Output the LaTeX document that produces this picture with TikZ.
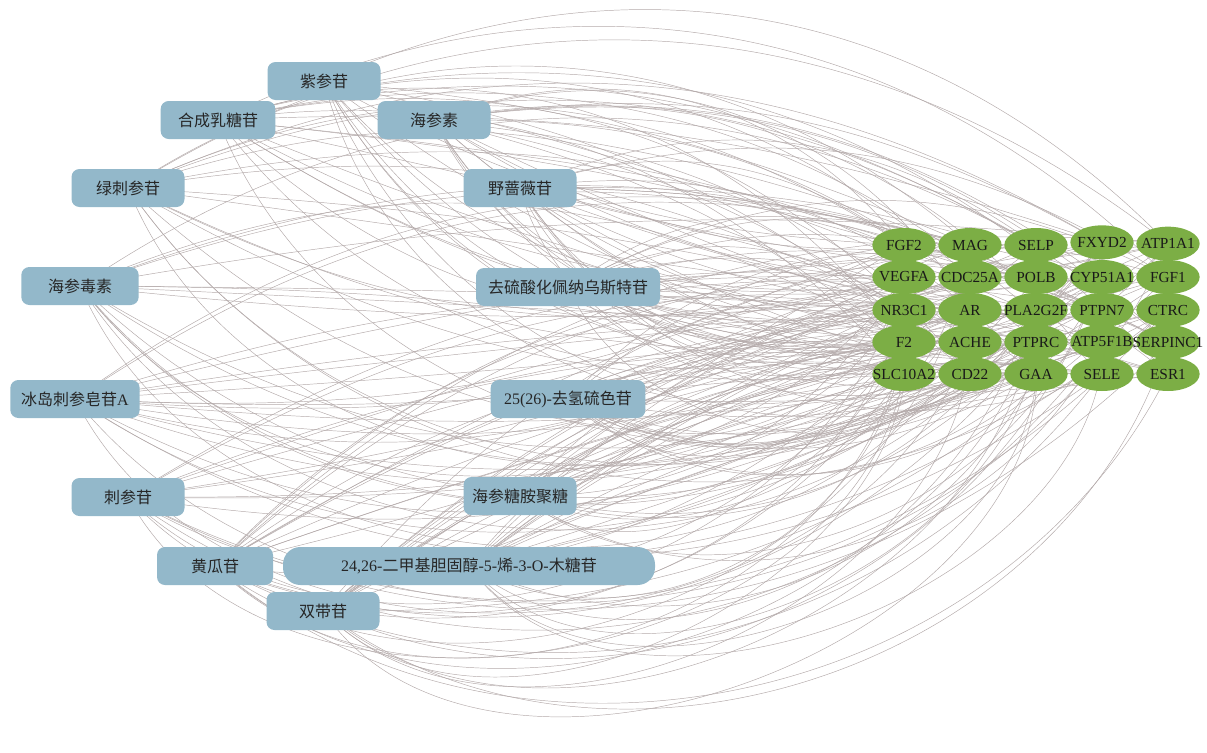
\documentclass[tikz,border=0pt]{standalone}
\usepackage{fontspec}
\setmainfont{Liberation Serif}
\newfontfamily\cjk{Noto Sans CJK SC}
\usetikzlibrary{shapes.geometric,backgrounds}
\definecolor{boxblue}{HTML}{93B8CA}
\definecolor{leafgreen}{HTML}{7CAE45}
\definecolor{edgegray}{HTML}{B3A9A9}
\newcommand{\zh}[1]{{\cjk #1}}
\begin{document}
\begin{tikzpicture}[x=0.75pt,y=-0.75pt,
  compound/.style={rectangle, rounded corners=6pt, fill=boxblue, minimum height=28.5pt, minimum width=84.75pt, inner sep=0pt, font=\fontsize{12}{12}\selectfont, text=black!85},
  target/.style={ellipse, fill=leafgreen, minimum width=47.5pt, minimum height=25.5pt, inner sep=0pt, font=\fontsize{11.5}{12}\selectfont, text=black!90},
  link/.style={draw=edgegray, line width=0.35pt}]
\useasboundingbox (0,0) rectangle (1207,753);
% compounds
\node[compound] (c1) at (324,81) {\zh{紫参苷}};
\node[compound, minimum width=86pt] (c2) at (218,120) {\zh{合成乳糖苷}};
\node[compound] (c3) at (434,120) {\zh{海参素}};
\node[compound] (c4) at (128,188) {\zh{绿刺参苷}};
\node[compound] (c5) at (520,188) {\zh{野蔷薇苷}};
\node[compound, minimum width=88pt] (c6) at (80,286) {\zh{海参毒素}};
\node[compound, minimum width=138pt] (c7) at (568,287) {\zh{去硫酸化佩纳乌斯特苷}};
\node[compound, minimum width=97pt] (c8) at (75,399) {\zh{冰岛刺参皂苷}A};
\node[compound, minimum width=116pt] (c9) at (568,399) {25(26)-\zh{去氢硫色苷}};
\node[compound] (c10) at (128,497) {\zh{刺参苷}};
\node[compound] (c11) at (520,496) {\zh{海参糖胺聚糖}};
\node[compound, minimum width=87pt] (c12) at (215,566) {\zh{黄瓜苷}};
\node[compound, minimum width=279pt, rounded corners=13pt] (c13) at (469,566) {24,26-\zh{二甲基胆固醇}-5-\zh{烯}-3-O-\zh{木糖苷}};
\node[compound] (c14) at (323,611) {\zh{双带苷}};
% targets
\foreach \r/\y in {1/245,2/277,3/310,4/342,5/374}{
  \foreach \k/\x in {1/904,2/970,3/1036,4/1102,5/1168}{
    \coordinate (p\r\k) at (\x,\y);
  }
}
\node[target] (t11) at (p11) {\makebox[0pt]{FGF2}};
\node[target] (t12) at (p12) {\makebox[0pt]{MAG}};
\node[target] (t13) at (p13) {\makebox[0pt]{SELP}};
\node[target] (t14) at ([yshift=2pt]p14) {\makebox[0pt]{FXYD2}};
\node[target] (t15) at ([yshift=1pt]p15) {\makebox[0pt]{ATP1A1}};
\node[target] (t21) at (p21) {\makebox[0pt]{VEGFA}};
\node[target] (t22) at (p22) {\makebox[0pt]{CDC25A}};
\node[target] (t23) at (p23) {\makebox[0pt]{POLB}};
\node[target] (t24) at (p24) {\makebox[0pt]{CYP51A1}};
\node[target] (t25) at (p25) {\makebox[0pt]{FGF1}};
\node[target] (t31) at (p31) {\makebox[0pt]{NR3C1}};
\node[target] (t32) at (p32) {\makebox[0pt]{AR}};
\node[target] (t33) at (p33) {\makebox[0pt]{PLA2G2F}};
\node[target] (t34) at (p34) {\makebox[0pt]{PTPN7}};
\node[target] (t35) at (p35) {\makebox[0pt]{CTRC}};
\node[target] (t41) at (p41) {\makebox[0pt]{F2}};
\node[target] (t42) at (p42) {\makebox[0pt]{ACHE}};
\node[target] (t43) at (p43) {\makebox[0pt]{PTPRC}};
\node[target] (t44) at (p44) {\makebox[0pt]{ATP5F1B}};
\node[target] (t45) at (p45) {\makebox[0pt]{SERPINC1}};
\node[target] (t51) at (p51) {\makebox[0pt]{SLC10A2}};
\node[target] (t52) at (p52) {\makebox[0pt]{CD22}};
\node[target] (t53) at (p53) {\makebox[0pt]{GAA}};
\node[target] (t54) at (p54) {\makebox[0pt]{SELE}};
\node[target] (t55) at (p55) {\makebox[0pt]{ESR1}};
% links
\pgfmathsetseed{2718}
\begin{pgfonlayer}{background}
\begin{scope}
\clip (0,0) rectangle (1207,753);
\foreach \c/\yc in {1/81,2/120,3/120,4/188,5/188,6/286,7/287,8/399,9/399,10/497,11/496,12/566,13/566,14/611}{
  \foreach \r in {1,...,5}{
    \foreach \k in {1,...,5}{
      \pgfmathsetmacro\keepval{rnd}
      \pgfmathsetmacro\bendraw{(345-\yc)/264*10+(rnd-0.5)*84}
      \pgfmathsetmacro\bendang{\bendraw<0 ? 1.6*\bendraw : 0.8*\bendraw}
      \ifdim\keepval pt<0.72pt
        \draw[link] (c\c.center) to[bend left=\bendang] (t\r\k.center);
      \fi
    }
  }
}
\end{scope}
\end{pgfonlayer}
\end{tikzpicture}
\end{document}
